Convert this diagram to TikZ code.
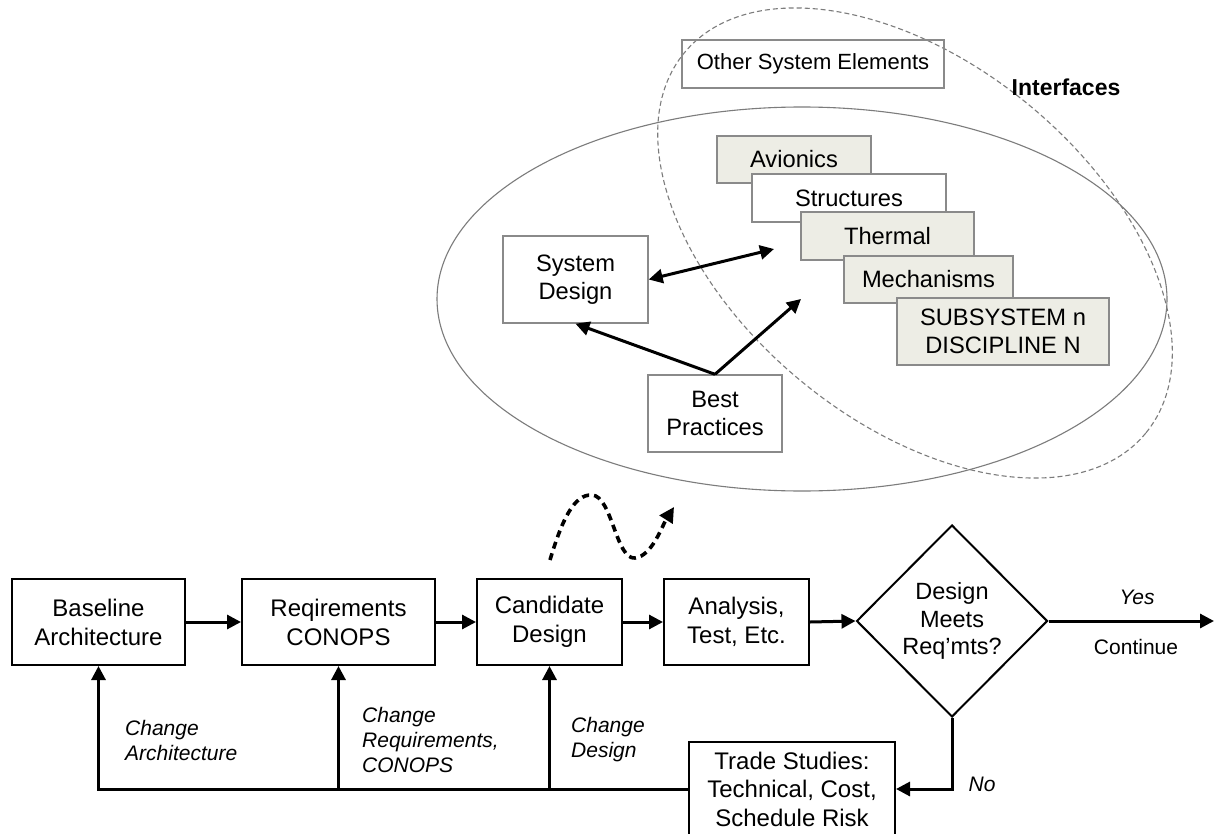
\documentclass[tikz,border=0pt]{standalone}
\usepackage{fontspec}
\setmainfont{Liberation Sans}
\usetikzlibrary{arrows.meta,shapes.geometric}
\definecolor{boxgray}{HTML}{EDEDE5}
\definecolor{edgegray}{HTML}{8A8A8A}
\tikzset{
  flowbox/.style={draw=black, line width=2pt, align=center, inner sep=0pt,
    font=\fontsize{24}{29}\selectfont},
  topbox/.style={draw=edgegray, line width=1.4pt, align=center, inner sep=0pt,
    font=\fontsize{23.7}{28.5}\selectfont},
  subbox/.style={topbox, fill=boxgray},
  tip/.tip={Triangle[length=14pt,width=14pt]},
  flow/.style={line width=3pt, -tip},
  flowline/.style={line width=3pt},
  lab/.style={font=\fontsize{21}{25}\selectfont\itshape, align=left, inner sep=0pt},
  ring/.style={draw=edgegray!90!black, line width=1.1pt},
}
\begin{document}
\begin{tikzpicture}[x=1pt,y=-1pt]
\path[use as bounding box, clip] (0,0) rectangle (1214,834);
\fill[white] (0,0) rectangle (1214,834);

% ellipses
\draw[ring] (802,299) ellipse [x radius=365, y radius=192];
\draw[ring, dash pattern=on 5pt off 3pt, rotate around={-39.5:(915,243)}]
  (915,243) ellipse [x radius=299, y radius=179];

% top boxes
\node[topbox, font=\fontsize{22}{28}\selectfont, minimum width=262pt, minimum height=48pt] (ose) at (813,64) {Other System Elements};
\node[font=\fontsize{23}{28}\selectfont\bfseries, inner sep=0pt] (intf) at (1066,87) {Interfaces};
\node[subbox, minimum width=154pt, minimum height=47pt] (avi) at (794,159.5) {Avionics};
\node[topbox, fill=white, minimum width=194pt, minimum height=48pt] (str) at (849,198) {Structures};
\node[subbox, minimum width=173pt, minimum height=48pt] (the) at (887.5,236) {Thermal};
\node[subbox, minimum width=169pt, minimum height=47pt] (mec) at (928.5,279.5) {Mechanisms};
\node[subbox, minimum width=212pt, minimum height=67pt] (sub) at (1003,331.5) {SUBSYSTEM n\\DISCIPLINE N};
\node[topbox, minimum width=145pt, minimum height=87pt] (sd) at (575.5,279.5) {System\\Design};
\node[topbox, minimum width=134pt, minimum height=77pt] (bp) at (715,413.5) {Best\\Practices};

\coordinate (sdt) at (774,249);
\coordinate (bpt) at (801,299);
\draw[line width=3pt, tip-tip] (sd.east) -- (sdt);
\draw[flow] (bp.north) -- (sd.south);
\draw[flow] (bp.north) -- (bpt);

% squiggle
\coordinate (sq0) at (550,560);
\coordinate (sq1) at (592,495);
\coordinate (sq2) at (635,558);
\coordinate (sq3) at (674,507);
\draw[line width=3.6pt, dash pattern=on 7pt off 5pt, -{Triangle[length=15pt,width=15pt]}]
  (sq0) .. controls (562,520) and (574,494) .. (sq1)
  .. controls (612,496) and (616,560) .. (sq2)
  .. controls (652,556) and (662,526) .. (sq3);

% bottom flow
\node[flowbox, minimum width=173pt, minimum height=86pt] (base) at (98.5,622) {Baseline\\Architecture};
\node[flowbox, minimum width=193pt, minimum height=86pt] (req) at (338.5,622) {Reqirements\\CONOPS};
\node[flowbox, minimum width=145pt, minimum height=86pt] (cand) at (549.5,622) {Candidate\\Design};
\node[flowbox, minimum width=145pt, minimum height=86pt] (ana) at (736.5,622) {Analysis,\\Test, Etc.};
\node[draw=black, line width=2pt, shape=diamond, minimum width=191pt, minimum height=192pt,
  inner sep=0pt, align=center, font=\fontsize{23.5}{27.5}\selectfont] (dia) at (952,621) {Design\\Meets\\Req'mts?};
\node[flowbox, font=\fontsize{24}{28.5}\selectfont, minimum width=206pt, minimum height=94pt] (trade) at (792,789)
  {Trade Studies:\\Technical, Cost,\\Schedule Risk};

\draw[flow] (base.east) -- (req.west);
\draw[flow] (req.east) -- (cand.west);
\draw[flow] (cand.east) -- (ana.west);
\draw[flow] (ana.east) -- (dia.west);
\coordinate (cont) at (1214,621);
\draw[flow] (dia.east) -- (cont);
\draw[flow] (dia.south) |- (trade.east);

\coordinate (fb1) at (98.5,789);
\coordinate (fb2) at (338.5,789);
\coordinate (fb3) at (549.5,789);
\draw[flowline, line cap=rect] (trade.west) -- (fb1);
\draw[flow] (fb1) -- (base.south);
\draw[flow] (fb2) -- (req.south);
\draw[flow] (fb3) -- (cand.south);

% labels
\node[lab, anchor=west] (l1) at (125,740) {Change\\Architecture};
\node[lab, anchor=west] (l2) at (362,740) {Change\\Requirements,\\CONOPS};
\node[lab, anchor=west] (l3) at (571,740) {Change\\Design};
\node[lab] (yes) at (1137,597) {Yes};
\node[font=\fontsize{21}{25}\selectfont, inner sep=0pt] (contlab) at (1136,647) {Continue};
\node[lab] (no) at (982,784) {No};
\end{tikzpicture}
\end{document}
